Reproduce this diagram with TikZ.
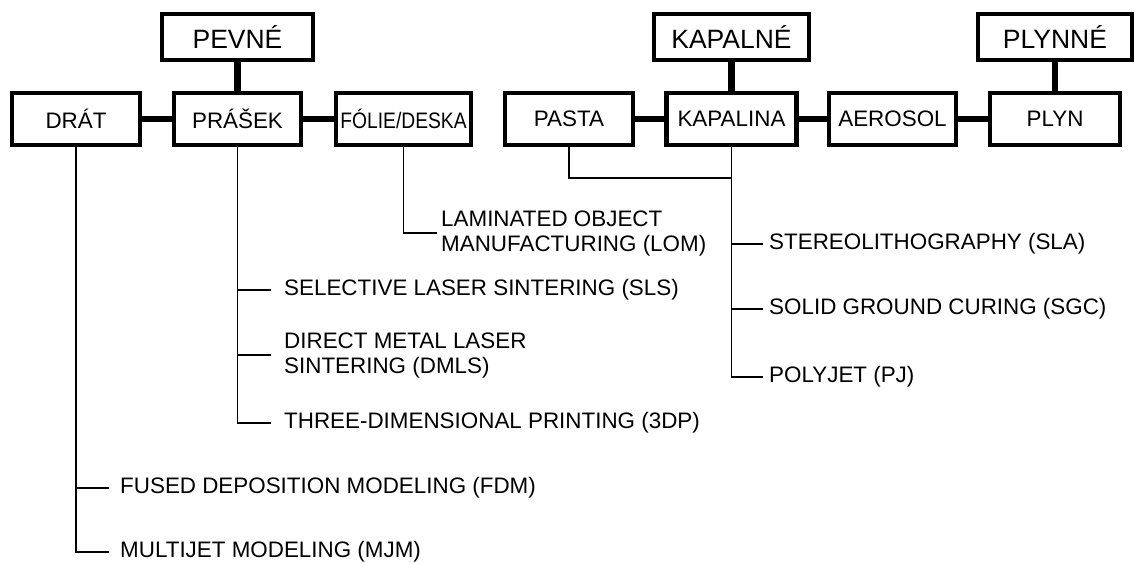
\documentclass[tikz,border=0pt]{standalone}
\usepackage{fontspec}
\setmainfont{Liberation Sans}
\usepackage{graphicx}
\usetikzlibrary{positioning}

\begin{document}
\begin{tikzpicture}[
    x=1pt, y=-1pt,
    statebox/.style={draw, line width=4.5pt, minimum height=46pt, inner sep=0pt, font=\fontsize{26.5}{30}\selectfont},
    formbox/.style={draw, line width=4.5pt, minimum height=52pt, inner sep=0pt, font=\fontsize{22.4}{26}\selectfont},
    joint/.style={line width=6.5pt},
    branch/.style={line width=1.3pt},
    leaf/.style={anchor=west, inner xsep=#1, inner ysep=0pt, align=left, font=\fontsize{22.4}{25}\selectfont},
    leaf/.default=8pt
  ]
  \useasboundingbox (0,0) rectangle (1135,563);

  % States of the material
  \node[statebox, minimum width=151pt] (pevne) at (237.5,37) {PEVNÉ};
  \node[statebox, minimum width=155pt] (kapalne) at (731.5,37) {KAPALNÉ};
  \node[statebox, minimum width=154pt] (plynne) at (1055,37) {PLYNNÉ};

  % Forms of the material
  \node[formbox, minimum width=128pt] (drat) at (76,119) {DRÁT};
  \node[formbox, minimum width=127pt] (prasek) at (237.5,119) {PRÁŠEK};
  \node[formbox, minimum width=135pt] (folie) at (403.5,119) {\scalebox{0.86}[1]{FÓLIE/DESKA}};
  \node[formbox, minimum width=128pt] (pasta) at (569,119) {PASTA};
  \node[formbox, minimum width=130pt] (kapalina) at (731.5,119) {KAPALINA};
  \node[formbox, minimum width=127pt] (aerosol) at (892.5,119) {AEROSOL};
  \node[formbox, minimum width=130pt] (plyn) at (1055,119) {PLYN};

  % Thick joints
  \draw[joint] (pevne.south) -- (prasek.north);
  \draw[joint] (kapalne.south) -- (kapalina.north);
  \draw[joint] (plynne.south) -- (plyn.north);
  \draw[joint] (drat.east) -- (prasek.west);
  \draw[joint] (prasek.east) -- (folie.west);
  \draw[joint] (pasta.east) -- (kapalina.west);
  \draw[joint] (kapalina.east) -- (aerosol.west);
  \draw[joint] (aerosol.east) -- (plyn.west);

  % Methods
  \node[leaf=11pt] (fdm) at (109,488) {FUSED DEPOSITION MODELING (FDM)};
  \node[leaf=11pt] (mjm) at (109,552) {MULTIJET MODELING (MJM)};
  \node[leaf=13pt] (sls) at (271,290) {SELECTIVE LASER SINTERING (SLS)};
  \node[leaf=13pt] (dmls) at (271,355) {DIRECT METAL LASER\\SINTERING (DMLS)};
  \node[leaf=13pt] (tdp) at (271,423) {THREE-DIMENSIONAL PRINTING (3DP)};
  \node[leaf=4pt] (lom) at (437,233) {LAMINATED OBJECT\\MANUFACTURING (LOM)};
  \node[leaf=6pt] (sla) at (763,244) {STEREOLITHOGRAPHY (SLA)};
  \node[leaf=6pt] (sgc) at (763,309) {SOLID GROUND CURING (SGC)};
  \node[leaf=6pt] (pj) at (763,377) {POLYJET (PJ)};
  \coordinate (pastajoin) at (731.5,178);

  % Thin branches
  \draw[branch] (drat.south) |- (mjm.west);
  \draw[branch] (fdm.west -| drat.south) -- (fdm.west);
  \draw[branch] (prasek.south) |- (tdp.west);
  \draw[branch] (sls.west -| prasek.south) -- (sls.west);
  \draw[branch] (dmls.west -| prasek.south) -- (dmls.west);
  \draw[branch] (folie.south) |- (lom.west);
  \draw[branch] (pasta.south) |- (pastajoin);
  \draw[branch] (kapalina.south) |- (pj.west);
  \draw[branch] (sla.west -| kapalina.south) -- (sla.west);
  \draw[branch] (sgc.west -| kapalina.south) -- (sgc.west);
\end{tikzpicture}
\end{document}
